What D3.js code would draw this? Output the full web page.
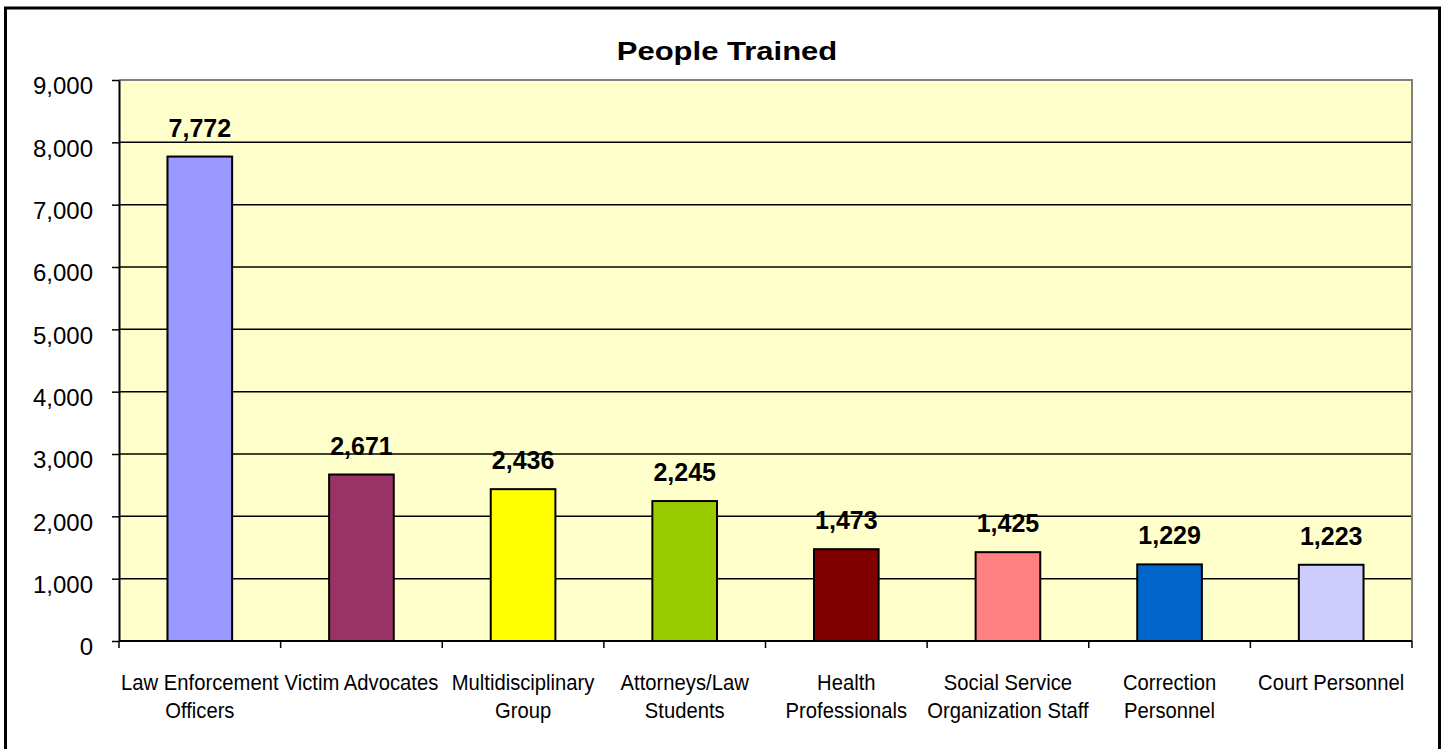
<!DOCTYPE html>
<html>
<head>
<meta charset="utf-8">
<script src="https://cdn.jsdelivr.net/npm/d3@7"></script>
<style>
  html, body { margin: 0; padding: 0; background: #ffffff; }
  svg { display: block; font-family: "Liberation Sans", Arial, sans-serif; }
</style>
</head>
<body>
<svg id="chart" width="1445" height="749"></svg>
<script>
const title = "People Trained";
const categories = [
  "Law Enforcement\nOfficers",
  "Victim Advocates",
  "Multidisciplinary\nGroup",
  "Attorneys/Law\nStudents",
  "Health\nProfessionals",
  "Social Service\nOrganization Staff",
  "Correction\nPersonnel",
  "Court Personnel"
];
const values = [7772, 2671, 2436, 2245, 1473, 1425, 1229, 1223];
const barColors = ["#9999FF", "#993366", "#FFFF00", "#99CC00", "#800000", "#FF8080", "#0066CC", "#CCCCFF"];
const yTicks = [0, 1000, 2000, 3000, 4000, 5000, 6000, 7000, 8000, 9000];
const yMax = 9000;

const svg = d3.select("#chart");
const plot = { left: 119, right: 1412, top: 80, bottom: 641 };

// outer frame
svg.append("rect")
  .attr("x", 5.5).attr("y", 8).attr("width", 1434).attr("height", 770)
  .attr("fill", "#ffffff").attr("stroke", "#000").attr("stroke-width", 3);

const x = d3.scaleBand().domain(categories)
  .range([plot.left, plot.right]).paddingInner(0.6).paddingOuter(0.3);
const y = d3.scaleLinear().domain([0, yMax]).range([plot.bottom, plot.top]);
const fmt = d3.format(",");

// plot background
svg.append("rect")
  .attr("x", plot.left).attr("y", plot.top)
  .attr("width", plot.right - plot.left).attr("height", plot.bottom - plot.top)
  .attr("fill", "#FFFFCC");

// gridlines
svg.append("g").selectAll("line")
  .data(yTicks.filter(t => t > 0 && t < yMax))
  .join("line")
  .attr("x1", plot.left).attr("x2", plot.right)
  .attr("y1", d => y(d)).attr("y2", d => y(d))
  .attr("stroke", "#000").attr("stroke-width", 1.5);

// grey top/right border of plot area
svg.append("path")
  .attr("d", `M${plot.left},${plot.top}H${plot.right}V${plot.bottom}`)
  .attr("fill", "none").attr("stroke", "#808080").attr("stroke-width", 2);

// bars
svg.append("g").selectAll("rect")
  .data(values)
  .join("rect")
  .attr("x", (d, i) => x(categories[i]))
  .attr("y", d => y(d))
  .attr("width", x.bandwidth())
  .attr("height", d => y(0) - y(d))
  .attr("fill", (d, i) => barColors[i])
  .attr("stroke", "#000").attr("stroke-width", 2);

// data labels
svg.append("g").selectAll("text")
  .data(values)
  .join("text")
  .attr("x", (d, i) => x(categories[i]) + x.bandwidth() / 2)
  .attr("y", d => y(d) - 20)
  .attr("text-anchor", "middle")
  .attr("font-size", 25).attr("font-weight", "bold").attr("fill", "#000")
  .text(d => fmt(d));

// y axis
const yAxis = svg.append("g")
  .attr("transform", `translate(${plot.left},0)`)
  .call(d3.axisLeft(y).tickValues(yTicks).tickFormat(fmt).tickSizeInner(7).tickSizeOuter(0).tickPadding(19));
yAxis.select(".domain").attr("stroke", "#000").attr("stroke-width", 2);
yAxis.selectAll(".tick line").attr("stroke", "#000").attr("stroke-width", 1.5);
yAxis.selectAll(".tick text")
  .attr("font-size", 24).attr("fill", "#000")
  .attr("font-family", "'Liberation Sans', Arial, sans-serif")
  .attr("dy", "0.58em");

// x axis line and ticks at category boundaries
svg.append("line")
  .attr("x1", plot.left).attr("x2", plot.right)
  .attr("y1", plot.bottom).attr("y2", plot.bottom)
  .attr("stroke", "#000").attr("stroke-width", 2);
const half = x.step() * x.paddingInner() / 2;
const bounds = categories.map(c => x(c) - half).concat([x(categories[categories.length - 1]) + x.bandwidth() + half]);
svg.append("g").selectAll("line")
  .data(bounds)
  .join("line")
  .attr("x1", d => d).attr("x2", d => d)
  .attr("y1", plot.bottom).attr("y2", plot.bottom + 7)
  .attr("stroke", "#000").attr("stroke-width", 1.5);

// category labels
const catG = svg.append("g").selectAll("text")
  .data(categories)
  .join("text")
  .attr("text-anchor", "middle")
  .attr("font-size", 22).attr("fill", "#000")
  .attr("transform", d => `translate(${x(d) + x.bandwidth() / 2},690) scale(0.92,1)`);
catG.selectAll("tspan")
  .data(d => d.split("\n"))
  .join("tspan")
  .attr("x", 0)
  .attr("y", (d, i) => i * 28)
  .text(d => d);

// title
svg.append("text")
  .attr("transform", `translate(727,60) scale(1.24,1)`)
  .attr("text-anchor", "middle")
  .attr("font-size", 25).attr("font-weight", "bold").attr("fill", "#000")
  .text(title);
</script>
</body>
</html>
